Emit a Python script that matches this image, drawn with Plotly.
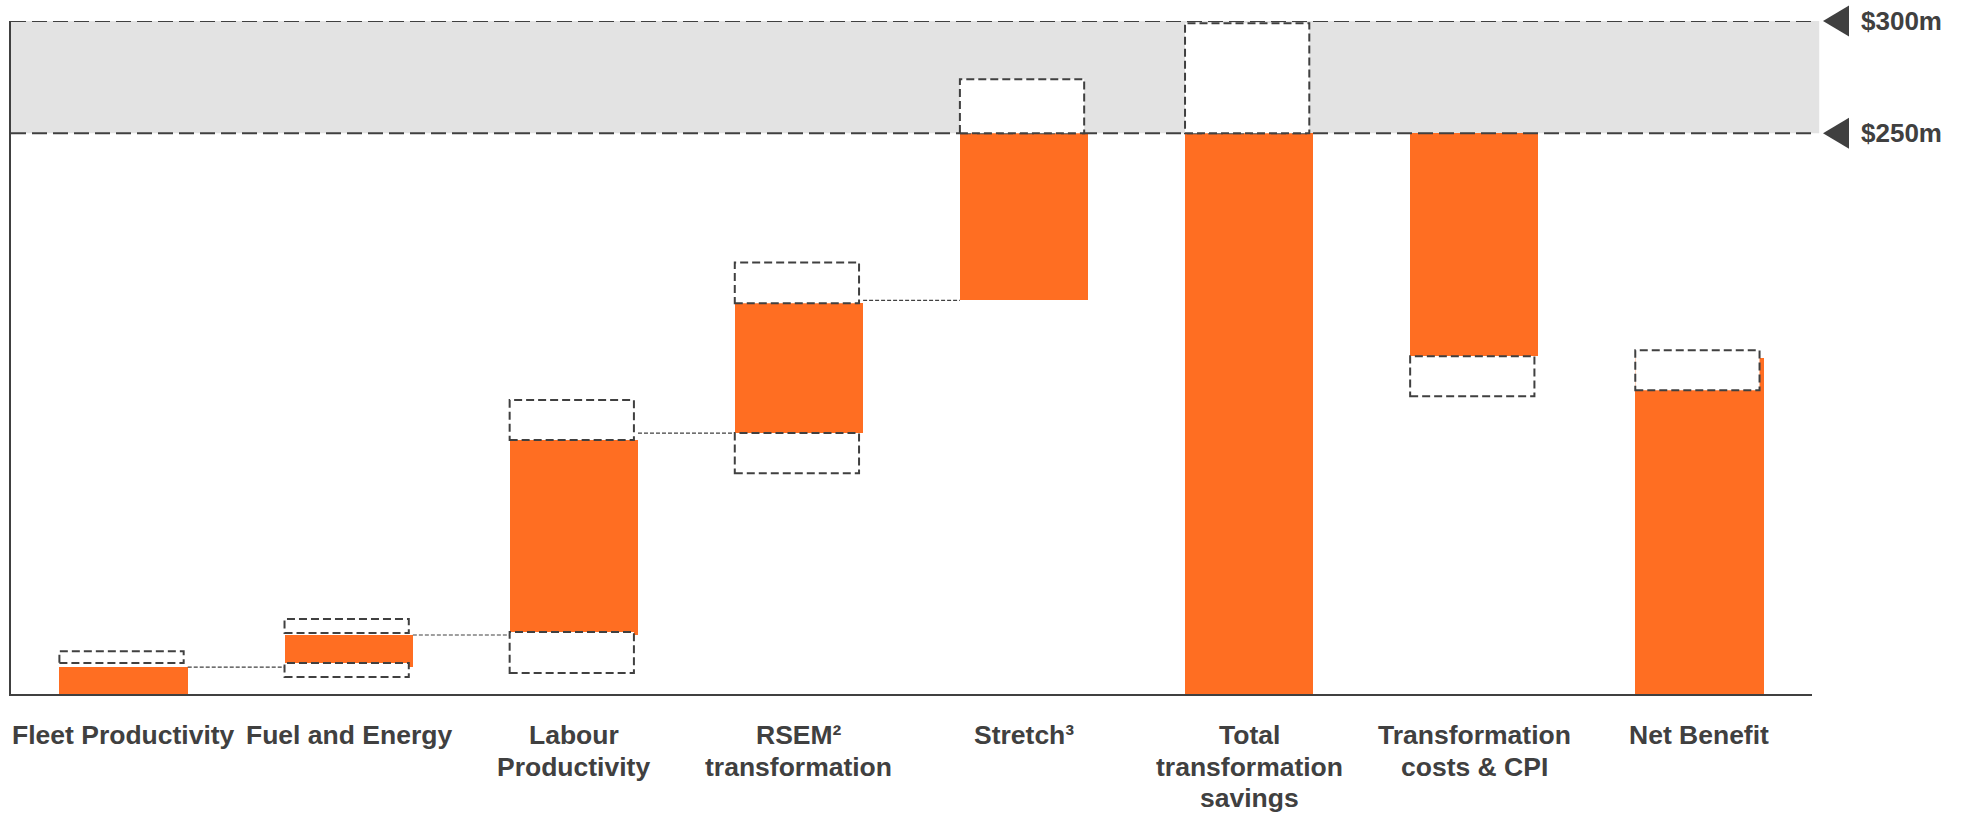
import plotly.graph_objects as go

# Transformation savings waterfall ($m), with low/high range boxes
categories = [
    "Fleet Productivity",
    "Fuel and Energy",
    "Labour<br>Productivity",
    "RSEM²<br>transformation",
    "Stretch³",
    "Total<br>transformation<br>savings",
    "Transformation<br>costs & CPI",
    "Net Benefit",
]
bar_base = [0, 12.0, 26.3, 116.3, 175.5, 0, 150.6, 0]
bar_top = [12.0, 26.3, 113.2, 174.2, 250, 250, 250, 149.7]

# dashed range boxes above / below each bar (None = no box)
upper_lo = [13.8, 27.2, 113.2, 174.2, 250, 250, None, 135.4]
upper_hi = [19.1, 33.4, 131.0, 192.4, 274, 299, None, 153.2]
lower_lo = [None, 7.6, 9.4, 98.4, None, None, 132.7, None]
lower_hi = [None, 13.8, 27.6, 116.3, None, None, 150.6, None]

# number of leading bars joined by connector lines
n_connected = 5

band_lo, band_hi = 250, 300
band_labels = ["$250m", "$300m"]
y_max = 300

ORANGE = "#FF6E22"
DARK = "#404040"
FONT = "Liberation Sans, Arial, sans-serif"
BAR_W = 0.57
BOX_W = 0.552
LABEL_SIZE = 26.5
LINE_STEP = 31.5

idx = list(range(len(categories)))

fig = go.Figure()
fig.add_trace(go.Bar(
    x=idx,
    y=[t - b for t, b in zip(bar_top, bar_base)],
    base=bar_base,
    width=BAR_W,
    marker=dict(color=ORANGE, line=dict(width=0)),
    hoverinfo="skip",
    showlegend=False,
))

shapes = []
# shaded target band and its dashed bounds
shapes.append(dict(type="rect", xref="paper", yref="y", x0=0, x1=1.004,
                   y0=band_lo, y1=band_hi, fillcolor="#E3E3E3",
                   line=dict(width=0), layer="below"))
for lvl in (band_lo, band_hi):
    shapes.append(dict(type="line", xref="paper", yref="y", x0=0, x1=1,
                       y0=lvl, y1=lvl, line=dict(color=DARK, width=2, dash="15px,6px"),
                       layer="above"))

# connectors between consecutive bars
for i in range(n_connected - 1):
    shapes.append(dict(type="line", xref="x", yref="y",
                       x0=i + BAR_W / 2, x1=i + 1 - BAR_W / 2,
                       y0=bar_base[i + 1], y1=bar_base[i + 1],
                       line=dict(color=DARK, width=1.2, dash="4px,2px"),
                       layer="above"))

# dashed range boxes
for i in idx:
    for lo, hi in ((upper_lo[i], upper_hi[i]), (lower_lo[i], lower_hi[i])):
        if lo is None:
            continue
        x0 = i - BAR_W / 2
        shapes.append(dict(type="rect", xref="x", yref="y",
                           x0=x0, x1=x0 + BOX_W, y0=lo, y1=hi,
                           fillcolor="white",
                           line=dict(color=DARK, width=2, dash="8px,4px"),
                           layer="above"))

# pointer triangles next to the band levels (paper refs so they are not clipped)
for lvl in (band_lo, band_hi):
    shapes.append(dict(type="path", xref="paper", yref="paper",
                       xsizemode="pixel", xanchor=1,
                       ysizemode="pixel", yanchor=lvl / y_max,
                       path="M 11,0 L 37,15.5 L 37,-15.5 Z",
                       fillcolor=DARK, line=dict(width=0), layer="above"))

annotations = []
for lvl, txt in zip((band_lo, band_hi), band_labels):
    annotations.append(dict(xref="paper", yref="y", x=1, y=lvl,
                            xanchor="left", yanchor="middle", xshift=47,
                            text="<b>" + txt + "</b>", showarrow=False,
                            font=dict(family=FONT, size=26, color=DARK)))

# category labels, one annotation per line for tight line spacing
for i, cat in zip(idx, categories):
    for k, line in enumerate(cat.split("<br>")):
        annotations.append(dict(xref="x", yref="paper", x=i, y=0,
                                xanchor="center", yanchor="top",
                                yshift=-24 - k * LINE_STEP,
                                text="<b>" + line + "</b>", showarrow=False,
                                align="center",
                                font=dict(family=FONT, size=LABEL_SIZE, color=DARK)))

fig.update_layout(
    width=1962, height=814,
    margin=dict(l=11, r=150, t=21, b=120),
    paper_bgcolor="white", plot_bgcolor="white",
    shapes=shapes, annotations=annotations,
    bargap=0,
    xaxis=dict(range=[-0.5, len(categories) - 0.5], showgrid=False, zeroline=False,
               showticklabels=False, ticks="", showline=True, linecolor=DARK,
               linewidth=2, fixedrange=True),
    yaxis=dict(range=[0, y_max], showgrid=False, zeroline=False,
               showticklabels=False, ticks="", showline=True, linecolor=DARK,
               linewidth=2, fixedrange=True),
)

fig.write_html("out.html")
